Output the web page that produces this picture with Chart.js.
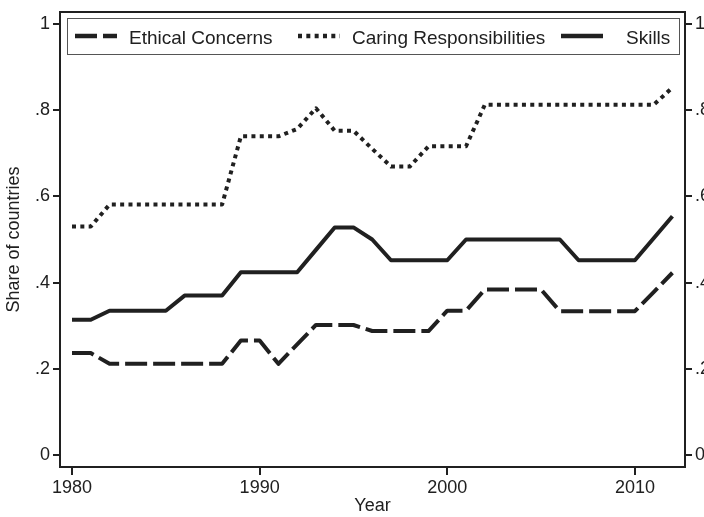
<!DOCTYPE html>
<html>
<head>
<meta charset="utf-8">
<script src="https://cdn.jsdelivr.net/npm/chart.js@4/dist/chart.umd.min.js"></script>
<style>
  html, body { margin: 0; padding: 0; background: #fff; }
  canvas { display: block; }
</style>
</head>
<body>
<canvas id="sharesChart" width="704" height="517"></canvas>
<script>
// values
const years = [1980, 1981, 1982, 1983, 1984, 1985, 1986, 1987, 1988, 1989, 1990,
  1991, 1992, 1993, 1994, 1995, 1996, 1997, 1998, 1999, 2000,
  2001, 2002, 2003, 2004, 2005, 2006, 2007, 2008, 2009, 2010, 2011, 2012];

const ethicalConcerns = [0.237, 0.237, 0.212, 0.212, 0.212, 0.212, 0.212, 0.212, 0.212, 0.266, 0.266,
  0.212, 0.257, 0.302, 0.302, 0.302, 0.288, 0.288, 0.288, 0.288, 0.335,
  0.335, 0.384, 0.384, 0.384, 0.384, 0.334, 0.334, 0.334, 0.334, 0.334, 0.378, 0.423];

const caringResponsibilities = [0.530, 0.530, 0.581, 0.581, 0.581, 0.581, 0.581, 0.581, 0.581, 0.739, 0.739,
  0.739, 0.756, 0.804, 0.752, 0.752, 0.710, 0.669, 0.669, 0.716, 0.716,
  0.716, 0.812, 0.812, 0.812, 0.812, 0.812, 0.812, 0.812, 0.812, 0.812, 0.812, 0.852];

const skills = [0.314, 0.314, 0.335, 0.335, 0.335, 0.335, 0.370, 0.370, 0.370, 0.424, 0.424,
  0.424, 0.424, 0.476, 0.528, 0.528, 0.500, 0.452, 0.452, 0.452, 0.452,
  0.500, 0.500, 0.500, 0.500, 0.500, 0.500, 0.452, 0.452, 0.452, 0.452, 0.503, 0.554];

const seriesNames = ['Ethical Concerns', 'Caring Responsibilities', 'Skills'];
const yearTicks = [1980, 1990, 2000, 2010];
const shareTicks = [0, 0.2, 0.4, 0.6, 0.8, 1];

const ink = '#202020';
const fontFamily = 'Arial, "Liberation Sans", Helvetica, sans-serif';

Chart.defaults.font.family = fontFamily;
Chart.defaults.font.size = 18;
Chart.defaults.color = ink;

function toPoints(values) {
    return years.map((year, i) => ({ x: year, y: values[i] }));
}

function shareLabel(value) {
    if (value === 0) return '0';
    if (value === 1) return '1';
    return String(Math.round(value * 10) / 10).replace(/^0/, '');
}

// black box round the plot area
const plotFrame = {
    id: 'plotFrame',
    afterDraw(chart) {
        const { ctx, chartArea } = chart;
        ctx.save();
        ctx.strokeStyle = ink;
        ctx.lineWidth = 2;
        ctx.strokeRect(chartArea.left, chartArea.top,
            chartArea.right - chartArea.left, chartArea.bottom - chartArea.top);
        ctx.restore();
    }
};

// Stata style legend: one row in a thin box at the top of the plot
const legendSlots = [{ line: 75, text: 129 }, { line: 298, text: 352 }, { line: 561, text: 626 }];
const boxedLegend = {
    id: 'boxedLegend',
    afterDraw(chart) {
        const { ctx } = chart;
        ctx.save();
        ctx.fillStyle = '#fff';
        ctx.fillRect(67, 18, 612, 36);
        ctx.strokeStyle = '#555';
        ctx.lineWidth = 1;
        ctx.strokeRect(67.5, 18.5, 612, 36);

        chart.data.datasets.forEach((ds, i) => {
            const slot = legendSlots[i];
            ctx.beginPath();
            ctx.setLineDash(ds.borderDash || []);
            ctx.lineCap = 'butt';
            ctx.lineWidth = 4.5;
            ctx.strokeStyle = ink;
            ctx.moveTo(slot.line, 36);
            ctx.lineTo(slot.line + 42, 36);
            ctx.stroke();
            ctx.setLineDash([]);

            ctx.fillStyle = ink;
            ctx.font = '19px ' + fontFamily;
            ctx.textBaseline = 'alphabetic';
            ctx.fillText(ds.label, slot.text, 43.5);
        });
        ctx.restore();
    }
};

function shareAxis(position, width) {
    return {
        type: 'linear',
        position: position,
        min: -0.027,
        max: 1.027,
        afterBuildTicks: scale => { scale.ticks = shareTicks.map(v => ({ value: v })); },
        afterFit: scale => {
            scale.width = width;
            scale.paddingTop = 0;
            scale.paddingBottom = 0;
        },
        grid: { drawOnChartArea: false, drawTicks: true, tickLength: 7, color: ink, lineWidth: 2 },
        border: { display: true, color: ink, width: 2 },
        ticks: { padding: 3, callback: shareLabel, font: { size: 18 } }
    };
}

const leftAxis = shareAxis('left', 60);
leftAxis.title = { display: true, text: 'Share of countries', padding: { top: 3 }, font: { size: 18 } };

new Chart(document.getElementById('sharesChart'), {
    type: 'line',
    data: {
        datasets: [
            { label: seriesNames[0], data: toPoints(ethicalConcerns), borderDash: [22, 6] },
            { label: seriesNames[1], data: toPoints(caringResponsibilities), borderDash: [4, 4.33] },
            { label: seriesNames[2], data: toPoints(skills) }
        ].map(ds => Object.assign({
            borderColor: ink,
            borderWidth: 4,
            pointRadius: 0,
            tension: 0,
            fill: false,
            borderCapStyle: 'butt',
            borderJoinStyle: 'round'
        }, ds))
    },
    options: {
        responsive: false,
        animation: false,
        layout: { padding: { top: 12, left: 0, right: 0, bottom: 0 } },
        plugins: { legend: { display: false }, tooltip: { enabled: false } },
        scales: {
            x: {
                type: 'linear',
                min: 1979.36,
                max: 2012.67,
                afterBuildTicks: scale => { scale.ticks = yearTicks.map(v => ({ value: v })); },
                afterFit: scale => {
                    scale.height = 50;
                    scale.paddingLeft = 0;
                    scale.paddingRight = 0;
                },
                grid: { drawOnChartArea: false, drawTicks: true, tickLength: 8, color: ink, lineWidth: 2 },
                border: { display: true, color: ink, width: 2 },
                ticks: { padding: 2, maxRotation: 0, autoSkip: false, callback: v => String(v) },
                title: { display: true, text: 'Year', padding: 0, font: { size: 18 } }
            },
            y: leftAxis,
            y2: shareAxis('right', 19)
        }
    },
    plugins: [plotFrame, boxedLegend]
});
</script>
</body>
</html>
